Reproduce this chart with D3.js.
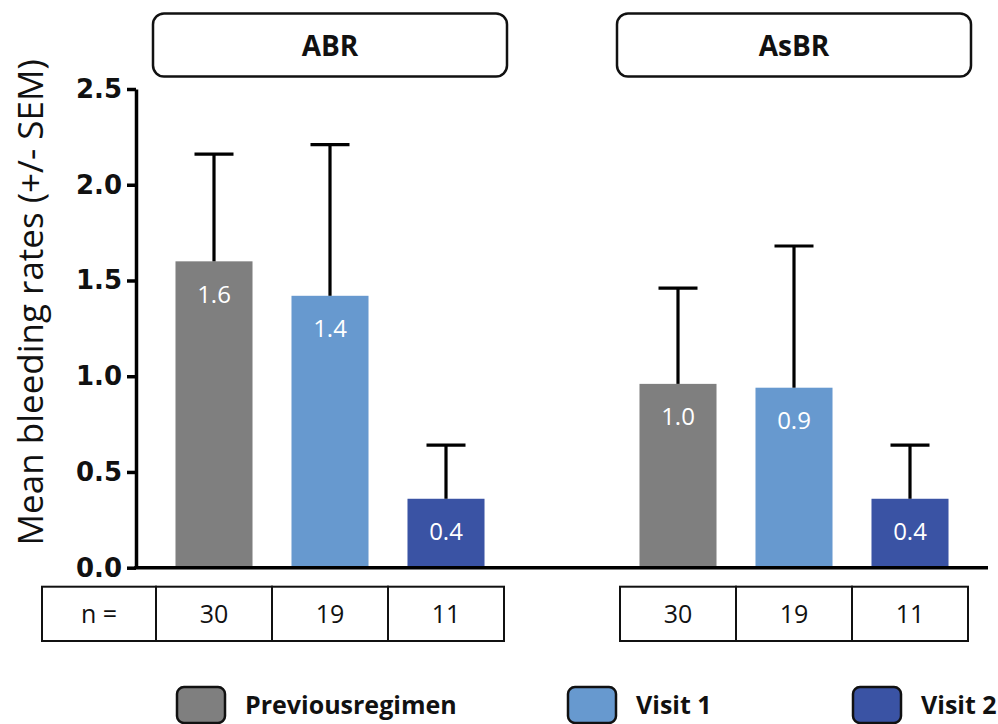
<!DOCTYPE html>
<html>
<head>
<meta charset="utf-8">
<script src="https://cdn.jsdelivr.net/npm/d3@7"></script>
<style>
  html, body { margin: 0; padding: 0; background: #fff; }
  svg { display: block; }
</style>
</head>
<body>
<svg id="chart" width="998" height="724"></svg>
<script>
// Panels and series
const panels = ["ABR", "AsBR"];
const series = ["Previousregimen", "Visit 1", "Visit 2"];
const seriesColors = ["#7f7f7f", "#6799cf", "#3a53a4"];

// Mean bleeding rates and upper SEM whisker per panel (order follows series)
const abrMeans = [1.60, 1.42, 0.36];
const abrUpper = [2.16, 2.21, 0.64];
const asbrMeans = [0.96, 0.94, 0.36];
const asbrUpper = [1.46, 1.68, 0.64];

// Patient counts shown under each bar
const abrN = [30, 19, 11];
const asbrN = [30, 19, 11];

// Y axis ticks
const yTicks = [0, 0.5, 1.0, 1.5, 2.0, 2.5];

const rows = [];
panels.forEach((p, pi) => {
  const means = pi === 0 ? abrMeans : asbrMeans;
  const upper = pi === 0 ? abrUpper : asbrUpper;
  const ns = pi === 0 ? abrN : asbrN;
  series.forEach((s, si) => {
    rows.push({ panel: p, series: s, mean: means[si], upper: upper[si], n: ns[si], color: seriesColors[si] });
  });
});

const svg = d3.select("#chart");
const x0 = 136, yBase = 567.7, yTop = 89;

const y = d3.scaleLinear().domain([0, 2.5]).range([yBase, yTop]);

const xPanel = d3.scaleBand().domain(panels).range([156, 968]).paddingInner(0.25).paddingOuter(0);
const xSeries = d3.scaleBand().domain(series).range([0, xPanel.bandwidth()])
  .paddingInner(0.336).paddingOuter(0.168);
const step = xSeries.step();

const color = d3.scaleOrdinal().domain(series).range(seriesColors);

// Panel header boxes
const headers = svg.append("g").selectAll("g").data(panels).join("g");
headers.append("rect")
  .attr("x", d => xPanel(d) - 3)
  .attr("y", 13.5)
  .attr("width", xPanel.bandwidth() + 6)
  .attr("height", 63)
  .attr("rx", 11)
  .attr("fill", "#fff")
  .attr("stroke", "#111")
  .attr("stroke-width", 2.5);
headers.append("text")
  .attr("x", d => xPanel(d) + xPanel.bandwidth() / 2)
  .attr("y", 46)
  .attr("dy", "0.35em")
  .attr("text-anchor", "middle")
  .attr("font-family", "Open Sans, sans-serif")
  .attr("font-weight", "bold")
  .attr("font-size", 28)
  .attr("fill", "#111")
  .text(d => d);

// Bars
const barX = d => xPanel(d.panel) + xSeries(d.series);
const barG = svg.append("g");
barG.selectAll("rect").data(rows).join("rect")
  .attr("x", barX)
  .attr("y", d => y(d.mean))
  .attr("width", xSeries.bandwidth())
  .attr("height", d => y(0) - y(d.mean))
  .attr("fill", d => color(d.series));

// Error bars (upper whisker only)
const capHalf = 19.5;
const errG = svg.append("g").attr("stroke", "#000").attr("stroke-width", 3.2);
errG.selectAll("line.v").data(rows).join("line").attr("class", "v")
  .attr("x1", d => barX(d) + xSeries.bandwidth() / 2)
  .attr("x2", d => barX(d) + xSeries.bandwidth() / 2)
  .attr("y1", d => y(d.mean))
  .attr("y2", d => y(d.upper));
errG.selectAll("line.c").data(rows).join("line").attr("class", "c")
  .attr("x1", d => barX(d) + xSeries.bandwidth() / 2 - capHalf)
  .attr("x2", d => barX(d) + xSeries.bandwidth() / 2 + capHalf)
  .attr("y1", d => y(d.upper))
  .attr("y2", d => y(d.upper));

// Value labels inside bars
svg.append("g").selectAll("text").data(rows).join("text")
  .attr("x", d => barX(d) + xSeries.bandwidth() / 2)
  .attr("y", d => y(d.mean) + 33)
  .attr("dy", "0.35em")
  .attr("text-anchor", "middle")
  .attr("font-family", "Open Sans, sans-serif")
  .attr("font-size", 24)
  .attr("fill", "#fff")
  .text(d => d3.format(".1f")(d.mean));

// Y axis
const yAxis = svg.append("g")
  .attr("transform", `translate(${x0},0)`)
  .call(d3.axisLeft(y).tickValues(yTicks).tickFormat(d3.format(".1f")).tickSize(9).tickPadding(5).tickSizeOuter(0));
yAxis.select(".domain").attr("stroke", "#000").attr("stroke-width", 3.5);
yAxis.selectAll(".tick line").attr("stroke", "#000").attr("stroke-width", 3.5);
yAxis.selectAll(".tick text")
  .attr("font-family", "DejaVu Sans, sans-serif")
  .attr("font-weight", "bold")
  .attr("font-size", 26)
  .attr("fill", "#111");

// Baseline across both panels
svg.append("line")
  .attr("x1", x0 - 1.75).attr("x2", 988)
  .attr("y1", y(0)).attr("y2", y(0))
  .attr("stroke", "#000").attr("stroke-width", 3.5);

// Y axis title
svg.append("text")
  .attr("transform", `translate(31,${(yTop + yBase) / 2 - 26}) rotate(-90)`)
  .attr("text-anchor", "middle")
  .attr("dy", "0.35em")
  .attr("font-family", "Open Sans, sans-serif")
  .attr("font-size", 35)
  .attr("fill", "#111")
  .text("Mean bleeding rates (+/- SEM)");

// n table
const tTop = 586.7, tH = 54.3;
const tableG = svg.append("g");
const cells = rows.map(d => ({ x: xPanel(d.panel) + xSeries(d.series) - xSeries.paddingOuter() * step, w: step, text: String(d.n) }));
cells.unshift({ x: 42, w: xPanel("ABR") - 42, text: "n =" });
tableG.selectAll("rect").data(cells).join("rect")
  .attr("x", d => d.x).attr("y", tTop)
  .attr("width", d => d.w).attr("height", tH)
  .attr("fill", "#fff").attr("stroke", "#111").attr("stroke-width", 2);
tableG.selectAll("text").data(cells).join("text")
  .attr("x", d => d.x + d.w / 2)
  .attr("y", tTop + tH / 2)
  .attr("dy", "0.35em")
  .attr("text-anchor", "middle")
  .attr("font-family", "Open Sans, sans-serif")
  .attr("font-size", 25)
  .attr("fill", "#111")
  .text(d => d.text);

// Legend
const legendX = [177, 568, 853];
const legend = svg.append("g").selectAll("g").data(series).join("g")
  .attr("transform", (d, i) => `translate(${legendX[i]},687)`);
legend.append("rect")
  .attr("width", 48).attr("height", 36).attr("rx", 7)
  .attr("fill", d => color(d))
  .attr("stroke", "#111").attr("stroke-width", 2.5);
legend.append("text")
  .attr("x", 68).attr("y", 18).attr("dy", "0.35em")
  .attr("font-family", "Open Sans, sans-serif")
  .attr("font-weight", "bold")
  .attr("font-size", 25)
  .attr("fill", "#111")
  .text(d => d);
</script>
</body>
</html>
